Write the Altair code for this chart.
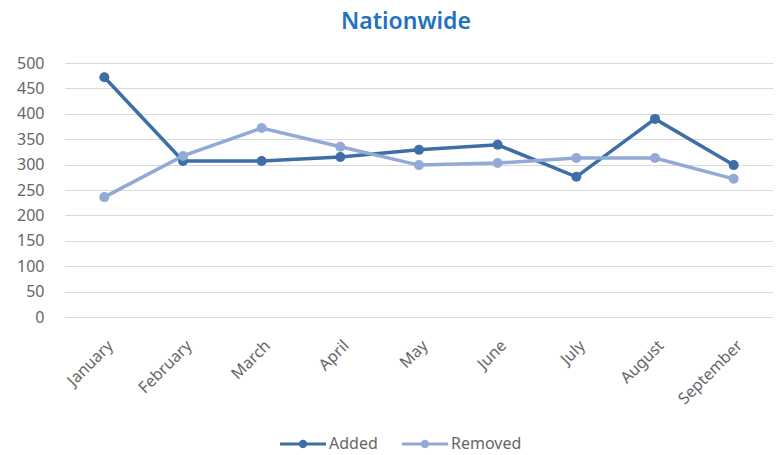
import altair as alt
import pandas as pd

months = ["January", "February", "March", "April", "May", "June", "July", "August", "September"]
added = [472, 307, 307, 315, 329, 339, 276, 390, 299]
removed = [236, 317, 372, 335, 299, 303, 313, 313, 272]
series = ["Added", "Removed"]
colors = ["#3E6EA6", "#93AAD6"]
y_ticks = [0, 50, 100, 150, 200, 250, 300, 350, 400, 450, 500]

rows = []
for m, a, r in zip(months, added, removed):
    rows.append({"Month": m, "Series": "Added", "Value": a})
    rows.append({"Month": m, "Series": "Removed", "Value": r})
df = pd.DataFrame(rows)

legend_path = ("M-2.3,-0.15 L2.3,-0.15 L2.3,0.15 L-2.3,0.15 Z "
               "M0,-0.42 A0.42,0.42 0 1,1 0,0.42 A0.42,0.42 0 1,1 0,-0.42 Z")

chart = alt.Chart(df).mark_line(
    strokeWidth=3.5,
    point=alt.OverlayMarkDef(filled=True, size=100),
).encode(
    x=alt.X("Month:N", sort=months, title=None,
            scale=alt.Scale(paddingOuter=0.5, paddingInner=0),
            axis=alt.Axis(labelAngle=-45, labelFontSize=16, labelColor="#666666",
                          labelFont="Noto Sans", domain=False, ticks=False,
                          labelPadding=20, grid=False)),
    y=alt.Y("Value:Q", title=None,
            scale=alt.Scale(domain=[0, 500]),
            axis=alt.Axis(values=y_ticks, labelFontSize=16, labelColor="#666666",
                          labelFont="Noto Sans", domain=False, ticks=False,
                          labelPadding=21, gridColor="#D9D9D9", gridWidth=1)),
    color=alt.Color("Series:N", sort=series, title=None,
                    scale=alt.Scale(domain=series, range=colors),
                    legend=alt.Legend(orient="none", direction="horizontal",
                                      legendX=228, legendY=371,
                                      symbolType=legend_path, symbolSize=400,
                                      symbolStrokeWidth=0, labelOffset=16,
                                      labelFontSize=16, labelColor="#666666",
                                      labelFont="Noto Sans", columnPadding=24)),
).properties(
    width=708,
    height=254,
    autosize=alt.AutoSizeParams(type="none"),
    padding={"left": 57, "top": 55, "right": 0, "bottom": 138},
    title=alt.TitleParams("Nationwide", fontSize=23, color="#2471C0",
                          font="Noto Sans", fontWeight=600, anchor="middle",
                          dx=-13, offset=21),
).configure_view(stroke=None)

chart.save("out.html", embed_options={"renderer": "svg", "actions": False})
